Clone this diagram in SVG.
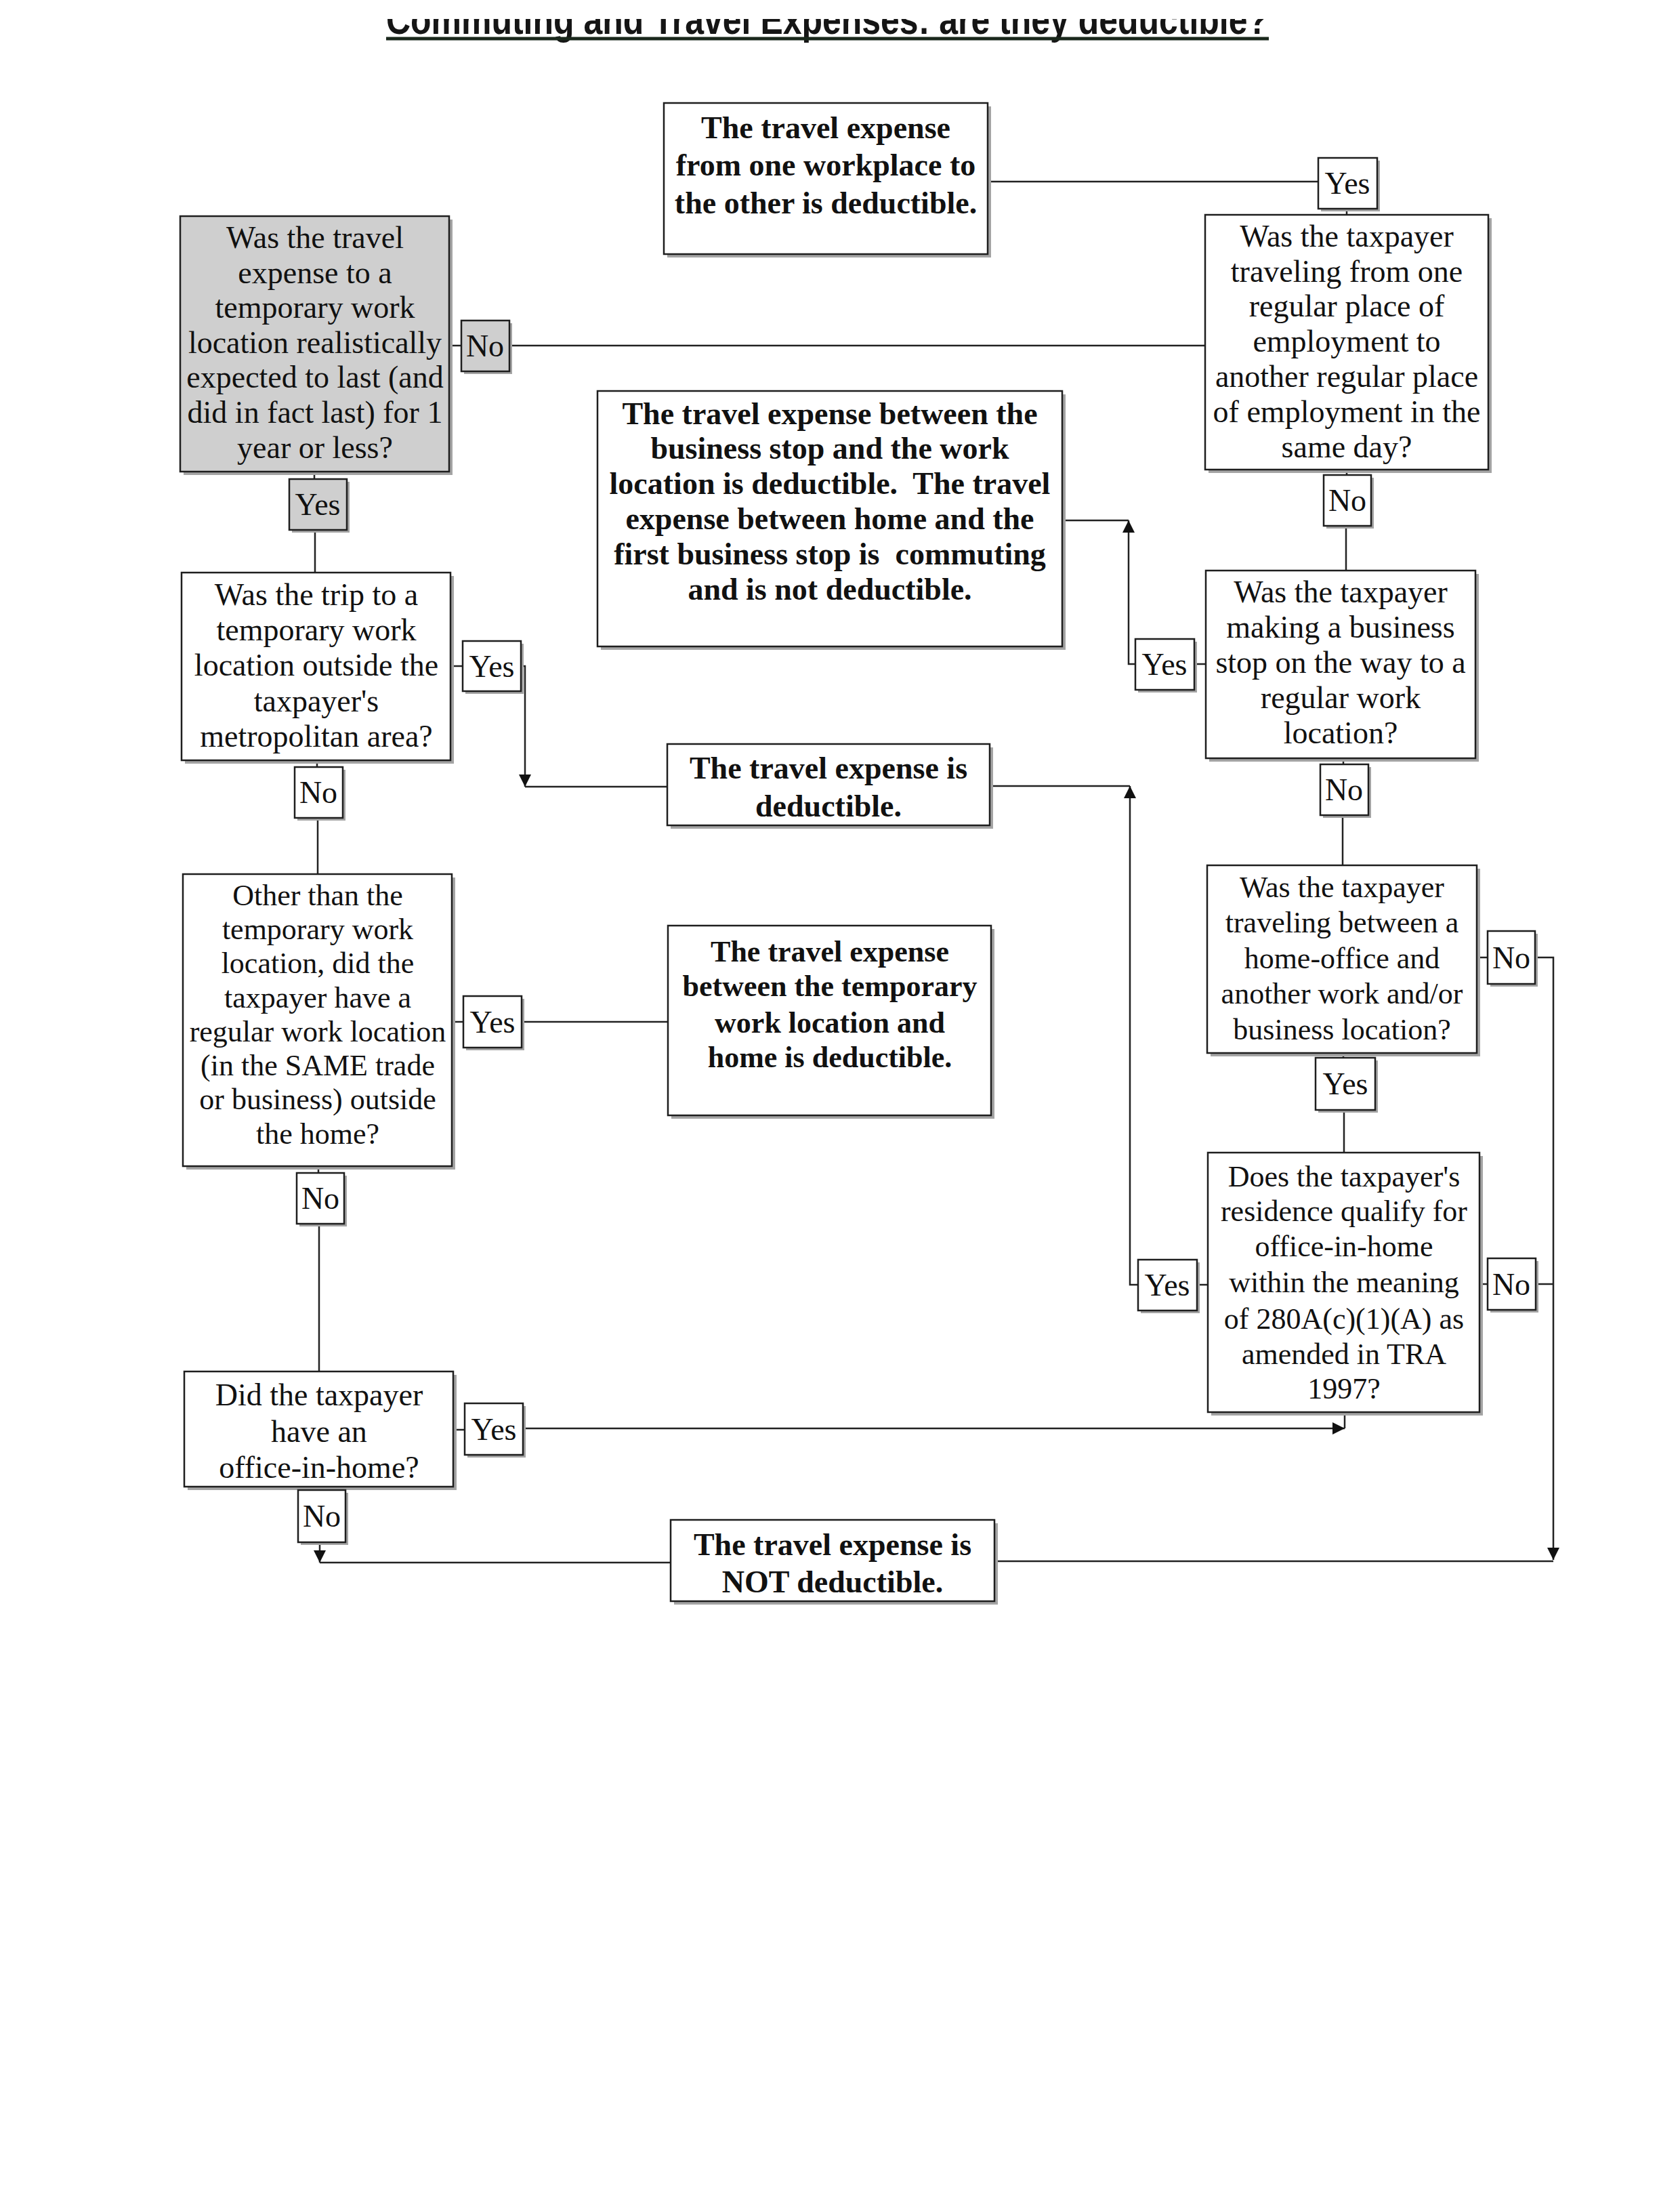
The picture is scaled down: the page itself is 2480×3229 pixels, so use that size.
<svg xmlns="http://www.w3.org/2000/svg" width="2480" height="3229" viewBox="0 0 2480 3229">
<style>
.bx{fill:#fff;stroke:#1e1e1e;stroke-width:2.5}
.gr{fill:#cfcfcf}
.sh{fill:#a4a4a4}
.t{font-family:"Liberation Serif","Times New Roman",serif;font-size:46px;fill:#111;text-anchor:middle}
.b{font-weight:bold}
.s44{font-size:44px}
.pre{white-space:pre}
.conn path{fill:none;stroke:#222;stroke-width:2.5}
.title{font-family:"Liberation Sans",Arial,sans-serif;font-weight:bold;font-size:62px;fill:#151515}
</style>
<defs>
<marker id="ah" viewBox="0 0 18 18" markerWidth="18" markerHeight="18" refX="18" refY="9" orient="auto" markerUnits="userSpaceOnUse">
<path d="M0,0 L18,9 L0,18 z" fill="#111"/>
</marker>
<clipPath id="tc"><rect x="0" y="28" width="2480" height="40"/></clipPath>
</defs>
<rect x="0" y="0" width="2480" height="3229" fill="#fff"/>

<g id="title">
<text class="title" x="570" y="50" textLength="1302" lengthAdjust="spacingAndGlyphs" clip-path="url(#tc)">Commuting and Travel Expenses: are they deductible?</text>
<line x1="570" y1="57" x2="1873" y2="57" stroke="#1a281c" stroke-width="5"/>
</g>

<g class="conn" id="connectors">
<path d="M1458,268 H1946"/>
<path d="M1988,308 V317"/>
<path d="M663,510 H681"/>
<path d="M752,510 H1779"/>
<path d="M464,696 V707"/>
<path d="M465,782 V845"/>
<path d="M1988,693 V701"/>
<path d="M1987,776 V842"/>
<path d="M1780,980 H1763"/>
<path d="M1568,768 H1666"/>
<path d="M1676,980 H1666 V768" marker-end="url(#ah)"/>
<path d="M665,983 H683"/>
<path d="M769,983 H775 V1161" marker-end="url(#ah)"/>
<path d="M775,1161 H985"/>
<path d="M468,1122 V1132"/>
<path d="M469,1207 V1290"/>
<path d="M1983,1119 V1128"/>
<path d="M1982,1203 V1277"/>
<path d="M1461,1160 H1668"/>
<path d="M1680,1896 H1668 V1160" marker-end="url(#ah)"/>
<path d="M667,1508 H684"/>
<path d="M770,1508 H986"/>
<path d="M2180,1413 H2196"/>
<path d="M2266,1413 H2293 V2302" marker-end="url(#ah)"/>
<path d="M1468,2304 H2293"/>
<path d="M1983,1554 V1561"/>
<path d="M1984,1638 V1701"/>
<path d="M1783,1896 H1767"/>
<path d="M2184,1895 H2196"/>
<path d="M2267,1895 H2293"/>
<path d="M470,1721 V1731"/>
<path d="M471,1806 V2024"/>
<path d="M669,2110 H686"/>
<path d="M772,2108 H1985" marker-end="url(#ah)"/>
<path d="M1985,2084 V2108"/>
<path d="M473,2194 V2199"/>
<path d="M472,2276 V2306" marker-end="url(#ah)"/>
<path d="M472,2306 H990"/>
</g>

<g id="nodeA">
<rect class="sh" x="985" y="157" width="478" height="223"/>
<rect class="bx" x="980" y="152" width="478" height="223"/>
<text class="t b"><tspan x="1219" y="204">The travel expense</tspan><tspan x="1219" y="259">from one workplace to</tspan><tspan x="1219" y="315">the other is deductible.</tspan></text>
</g>

<g id="nodeB">
<rect class="sh" x="1784" y="322" width="418" height="376"/>
<rect class="bx" x="1779" y="317" width="418" height="376"/>
<text class="t"><tspan x="1988" y="364">Was the taxpayer</tspan><tspan x="1988" y="416">traveling from one</tspan><tspan x="1988" y="467">regular place of</tspan><tspan x="1988" y="519">employment to</tspan><tspan x="1988" y="571">another regular place</tspan><tspan x="1988" y="623">of employment in the</tspan><tspan x="1988" y="675">same day?</tspan></text>
</g>

<g id="nodeC">
<rect class="sh" x="271" y="324" width="397" height="377"/>
<rect class="bx gr" x="266" y="319" width="397" height="377"/>
<text class="t"><tspan x="465" y="366">Was the travel</tspan><tspan x="465" y="418">expense to a</tspan><tspan x="465" y="469">temporary work</tspan><tspan x="465" y="521">location realistically</tspan><tspan x="465" y="572">expected to last (and</tspan><tspan x="465" y="624">did in fact last) for 1</tspan><tspan x="465" y="676">year or less?</tspan></text>
</g>

<g id="nodeD">
<rect class="sh" x="887" y="582" width="686" height="377"/>
<rect class="bx" x="882" y="577" width="686" height="377"/>
<text class="t b pre"><tspan x="1225" y="626">The travel expense between the</tspan><tspan x="1225" y="677">business stop and the work</tspan><tspan x="1225" y="729">location is deductible.  The travel</tspan><tspan x="1225" y="781">expense between home and the</tspan><tspan x="1225" y="833">first business stop is  commuting</tspan><tspan x="1225" y="885">and is not deductible.</tspan></text>
</g>

<g id="nodeE">
<rect class="sh" x="1785" y="847" width="398" height="277"/>
<rect class="bx" x="1780" y="842" width="398" height="277"/>
<text class="t"><tspan x="1979" y="889">Was the taxpayer</tspan><tspan x="1979" y="941">making a business</tspan><tspan x="1979" y="993">stop on the way to a</tspan><tspan x="1979" y="1045">regular work</tspan><tspan x="1979" y="1097">location?</tspan></text>
</g>

<g id="nodeF">
<rect class="sh" x="273" y="850" width="397" height="277"/>
<rect class="bx" x="268" y="845" width="397" height="277"/>
<text class="t"><tspan x="467" y="893">Was the trip to a</tspan><tspan x="467" y="945">temporary work</tspan><tspan x="467" y="997">location outside the</tspan><tspan x="467" y="1050">taxpayer's</tspan><tspan x="467" y="1102">metropolitan area?</tspan></text>
</g>

<g id="nodeG">
<rect class="sh" x="990" y="1103" width="476" height="120"/>
<rect class="bx" x="985" y="1098" width="476" height="120"/>
<text class="t b"><tspan x="1223" y="1149">The travel expense is</tspan><tspan x="1223" y="1205">deductible.</tspan></text>
</g>

<g id="nodeI">
<rect class="sh" x="275" y="1295" width="397" height="431"/>
<rect class="bx" x="270" y="1290" width="397" height="431"/>
<text class="t s44"><tspan x="469" y="1336">Other than the</tspan><tspan x="469" y="1386">temporary work</tspan><tspan x="469" y="1436">location, did the</tspan><tspan x="469" y="1487">taxpayer have a</tspan><tspan x="469" y="1537">regular work location</tspan><tspan x="469" y="1587">(in the SAME trade</tspan><tspan x="469" y="1637">or business) outside</tspan><tspan x="469" y="1688">the home?</tspan></text>
</g>

<g id="nodeJ">
<rect class="sh" x="991" y="1371" width="477" height="280"/>
<rect class="bx" x="986" y="1366" width="477" height="280"/>
<text class="t b s44"><tspan x="1225" y="1419">The travel expense</tspan><tspan x="1225" y="1470">between the temporary</tspan><tspan x="1225" y="1524">work location and</tspan><tspan x="1225" y="1575">home is deductible.</tspan></text>
</g>

<g id="nodeK">
<rect class="sh" x="1787" y="1282" width="398" height="277"/>
<rect class="bx" x="1782" y="1277" width="398" height="277"/>
<text class="t s44"><tspan x="1981" y="1324">Was the taxpayer</tspan><tspan x="1981" y="1376">traveling between a</tspan><tspan x="1981" y="1429">home-office and</tspan><tspan x="1981" y="1481">another work and/or</tspan><tspan x="1981" y="1534">business location?</tspan></text>
</g>

<g id="nodeL">
<rect class="sh" x="1788" y="1706" width="401" height="383"/>
<rect class="bx" x="1783" y="1701" width="401" height="383"/>
<text class="t s44"><tspan x="1984" y="1751">Does the taxpayer's</tspan><tspan x="1984" y="1802">residence qualify for</tspan><tspan x="1984" y="1854">office-in-home</tspan><tspan x="1984" y="1907">within the meaning</tspan><tspan x="1984" y="1961">of 280A(c)(1)(A) as</tspan><tspan x="1984" y="2013">amended in TRA</tspan><tspan x="1984" y="2064">1997?</tspan></text>
</g>

<g id="nodeM">
<rect class="sh" x="277" y="2029" width="397" height="170"/>
<rect class="bx" x="272" y="2024" width="397" height="170"/>
<text class="t"><tspan x="471" y="2074">Did the taxpayer</tspan><tspan x="471" y="2128">have an</tspan><tspan x="471" y="2181">office-in-home?</tspan></text>
</g>

<g id="nodeN">
<rect class="sh" x="995" y="2248" width="478" height="120"/>
<rect class="bx" x="990" y="2243" width="478" height="120"/>
<text class="t b"><tspan x="1229" y="2295">The travel expense is</tspan><tspan x="1229" y="2350">NOT deductible.</tspan></text>
</g>

<g id="lblYes1"><rect class="sh" x="1950" y="237" width="87" height="75"/><rect class="bx" x="1946" y="233" width="87" height="75"/><text class="t" x="1989" y="286">Yes</text></g>
<g id="lblNo1"><rect class="sh" x="685" y="477" width="71" height="75"/><rect class="bx gr" x="681" y="473" width="71" height="75"/><text class="t" x="716" y="526">No</text></g>
<g id="lblYes2"><rect class="sh" x="431" y="711" width="85" height="75"/><rect class="bx gr" x="427" y="707" width="85" height="75"/><text class="t" x="469" y="760">Yes</text></g>
<g id="lblNo2"><rect class="sh" x="1958" y="705" width="70" height="75"/><rect class="bx" x="1954" y="701" width="70" height="75"/><text class="t" x="1989" y="754">No</text></g>
<g id="lblYes3"><rect class="sh" x="1680" y="947" width="87" height="75"/><rect class="bx" x="1676" y="943" width="87" height="75"/><text class="t" x="1719" y="996">Yes</text></g>
<g id="lblYes4"><rect class="sh" x="687" y="950" width="86" height="74"/><rect class="bx" x="683" y="946" width="86" height="74"/><text class="t" x="726" y="999">Yes</text></g>
<g id="lblNo3"><rect class="sh" x="439" y="1136" width="71" height="75"/><rect class="bx" x="435" y="1132" width="71" height="75"/><text class="t" x="470" y="1185">No</text></g>
<g id="lblNo4"><rect class="sh" x="1953" y="1132" width="71" height="75"/><rect class="bx" x="1949" y="1128" width="71" height="75"/><text class="t" x="1984" y="1181">No</text></g>
<g id="lblNo5"><rect class="sh" x="2200" y="1378" width="70" height="78"/><rect class="bx" x="2196" y="1374" width="70" height="78"/><text class="t" x="2231" y="1429">No</text></g>
<g id="lblYes5"><rect class="sh" x="688" y="1474" width="86" height="76"/><rect class="bx" x="684" y="1470" width="86" height="76"/><text class="t" x="727" y="1524">Yes</text></g>
<g id="lblYes6"><rect class="sh" x="1946" y="1565" width="88" height="77"/><rect class="bx" x="1942" y="1561" width="88" height="77"/><text class="t" x="1986" y="1615">Yes</text></g>
<g id="lblNo6"><rect class="sh" x="442" y="1735" width="70" height="75"/><rect class="bx" x="438" y="1731" width="70" height="75"/><text class="t" x="473" y="1784">No</text></g>
<g id="lblYes7"><rect class="sh" x="1684" y="1863" width="87" height="75"/><rect class="bx" x="1680" y="1859" width="87" height="75"/><text class="t" x="1723" y="1912">Yes</text></g>
<g id="lblNo7"><rect class="sh" x="2200" y="1861" width="71" height="76"/><rect class="bx" x="2196" y="1857" width="71" height="76"/><text class="t" x="2231" y="1911">No</text></g>
<g id="lblYes8"><rect class="sh" x="690" y="2075" width="86" height="76"/><rect class="bx" x="686" y="2071" width="86" height="76"/><text class="t" x="729" y="2125">Yes</text></g>
<g id="lblNo8"><rect class="sh" x="444" y="2203" width="70" height="77"/><rect class="bx" x="440" y="2199" width="70" height="77"/><text class="t" x="475" y="2253">No</text></g>
</svg>
